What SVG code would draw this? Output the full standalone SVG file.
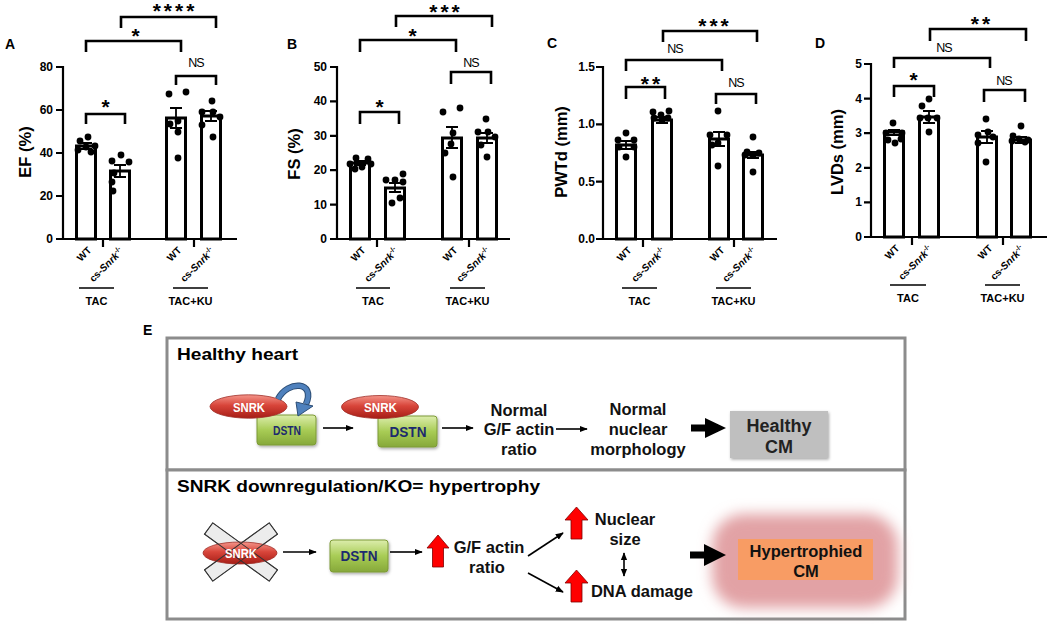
<svg xmlns="http://www.w3.org/2000/svg" width="1050" height="626" viewBox="0 0 1050 626">
<defs>
<style>
text{font-family:"Liberation Sans",Arial,Helvetica,sans-serif}
.pl{font-size:14px;font-weight:bold}
.tk{font-size:12px;font-weight:bold;text-anchor:end}
.yl{font-size:16.5px;font-weight:bold;text-anchor:middle}
.xl{font-size:10px;font-weight:bold;text-anchor:end}
.gl{font-size:11px;font-weight:bold;text-anchor:middle}
.st{font-size:21px;font-weight:bold;text-anchor:middle;letter-spacing:3px}
.ns{font-size:12.5px;text-anchor:middle;letter-spacing:-1px}
.ax{fill:none;stroke:#000;stroke-width:2.2}
.bar{fill:#fff;stroke:#000;stroke-width:3}
.er{fill:none;stroke:#000;stroke-width:1.8}
.br{fill:none;stroke:#000;stroke-width:2.6}
.gline{stroke:#000;stroke-width:1.5}
.dt circle{fill:#000}
.box{fill:#fff;stroke:#8c8c8c;stroke-width:3}
.et{font-size:16px;font-weight:bold}
.e{font-size:16.5px;font-weight:bold;text-anchor:middle;fill:#111}
.snrk{fill:url(#red);stroke:#a0302a;stroke-width:0.8}
.snt{font-size:13.5px;font-weight:bold;fill:#fff;text-anchor:middle}
.dstn{fill:url(#green);stroke:#7d9a36;stroke-width:1}
.dst{font-weight:bold;fill:#1c2a6e;text-anchor:middle}
.arr{fill:none;stroke:#000;stroke-width:1.6}
.up{fill:#ff0000;stroke:#800000;stroke-width:0.8}
</style>
<linearGradient id="red" x1="0" y1="0" x2="0" y2="1">
<stop offset="0" stop-color="#f4958a"/>
<stop offset="0.45" stop-color="#d8453a"/>
<stop offset="1" stop-color="#a61d16"/>
</linearGradient>
<linearGradient id="green" x1="0" y1="0" x2="0" y2="1">
<stop offset="0" stop-color="#dcedac"/>
<stop offset="0.5" stop-color="#a8cc55"/>
<stop offset="1" stop-color="#86a83a"/>
</linearGradient>
<filter id="glow" x="-40%" y="-50%" width="180%" height="200%"><feGaussianBlur stdDeviation="7"/></filter>
<filter id="sh" x="-20%" y="-20%" width="140%" height="140%"><feDropShadow dx="1" dy="1.5" stdDeviation="1.5" flood-opacity="0.35"/></filter>
<marker id="ah" viewBox="0 0 10 10" refX="9" refY="5" markerWidth="5" markerHeight="5" orient="auto-start-reverse"><path d="M0,1 L10,5 L0,9 z" fill="#000"/></marker>
</defs>
<rect width="1050" height="626" fill="#fff"/>

<!-- Panel A -->
<g id="panelA">
<text class="pl" x="5" y="49">A</text>
<path class="ax" d="M63,66 V239 H237 M56,67 H63 M56,110 H63 M56,153 H63 M56,196 H63 M56,239 H63 M103,239 V247 M194,239 V247"/>
<text class="tk" x="53" y="71">80</text><text class="tk" x="53" y="114">60</text><text class="tk" x="53" y="157">40</text><text class="tk" x="53" y="200">20</text><text class="tk" x="53" y="243">0</text>
<text class="yl" transform="translate(31,152) rotate(-90)">EF (%)</text>
<rect class="bar" x="76.5" y="146" width="19" height="93"/>
<rect class="bar" x="110.5" y="171" width="19" height="68"/>
<rect class="bar" x="166.5" y="118" width="19" height="121"/>
<rect class="bar" x="201.5" y="116" width="19" height="123"/>
<path class="er" d="M80,143 H92 M86,143 V149 M80,149 H92 M114,165 H126 M120,165 V177 M114,177 H126 M170,108 H182 M176,108 V128 M170,128 H182 M205,111 H217 M211,111 V121 M205,121 H217"/>
<g class="dt">
<circle cx="78" cy="150" r="3.4"/><circle cx="86" cy="147" r="3.4"/><circle cx="88" cy="137" r="3.4"/><circle cx="80" cy="141" r="3.4"/><circle cx="95" cy="146" r="3.4"/><circle cx="91" cy="152" r="3.4"/>
<circle cx="112" cy="161" r="3.4"/><circle cx="121" cy="155" r="3.4"/><circle cx="129" cy="162" r="3.4"/><circle cx="114" cy="173" r="3.4"/><circle cx="112" cy="182" r="3.4"/><circle cx="113" cy="191" r="3.4"/>
<circle cx="169" cy="94" r="3.4"/><circle cx="186" cy="92" r="3.4"/><circle cx="178" cy="121" r="3.4"/><circle cx="170" cy="124" r="3.4"/><circle cx="178" cy="132" r="3.4"/><circle cx="178" cy="158" r="3.4"/>
<circle cx="212" cy="101" r="3.4"/><circle cx="202" cy="112" r="3.4"/><circle cx="213" cy="112" r="3.4"/><circle cx="220" cy="117" r="3.4"/><circle cx="202" cy="125" r="3.4"/><circle cx="213" cy="137" r="3.4"/>
</g>
<path class="br" d="M86,124 V114 H125 V124 M176,85 V76 H216 V85 M86,52 V41 H181 V52 M121,28 V17 H216 V28"/>
<text class="st" x="107" y="114">*</text>
<text class="ns" x="196" y="67">NS</text>
<text class="st" x="137" y="43">*</text>
<text class="st" x="175" y="18">****</text>
<text class="xl" transform="translate(92,251) rotate(-45)">WT</text>
<text class="xl" transform="translate(124,252) rotate(-45)">cs-<tspan font-style="italic">Snrk</tspan><tspan font-size="7" dy="-4">-/-</tspan></text>
<text class="xl" transform="translate(182,251) rotate(-45)">WT</text>
<text class="xl" transform="translate(215,252) rotate(-45)">cs-<tspan font-style="italic">Snrk</tspan><tspan font-size="7" dy="-4">-/-</tspan></text>
<path class="gline" d="M79,288 H114 M173,288 H208"/>
<text class="gl" x="96.5" y="305">TAC</text>
<text class="gl" x="190.5" y="305">TAC+KU</text>
</g>

<!-- Panel B -->
<g id="panelB">
<text class="pl" x="287" y="49">B</text>
<path class="ax" d="M337,66 V239 H510 M330,67 H337 M330,101.4 H337 M330,135.8 H337 M330,170.2 H337 M330,204.6 H337 M330,239 H337 M377,239 V247 M469,239 V247"/>
<text class="tk" x="327" y="71">50</text><text class="tk" x="327" y="105.4">40</text><text class="tk" x="327" y="139.8">30</text><text class="tk" x="327" y="174.2">20</text><text class="tk" x="327" y="208.6">10</text><text class="tk" x="327" y="243">0</text>
<text class="yl" transform="translate(300,154) rotate(-90)">FS (%)</text>
<rect class="bar" x="350.5" y="163" width="19" height="76"/>
<rect class="bar" x="385.5" y="188" width="19" height="51"/>
<rect class="bar" x="442.5" y="138" width="19" height="101"/>
<rect class="bar" x="477.5" y="138" width="19" height="101"/>
<path class="er" d="M354,161 H366 M360,161 V165 M354,165 H366 M389,183 H401 M395,183 V192 M389,192 H401 M446,127 H458 M452,127 V148 M446,148 H458 M481,133 H493 M487,133 V143 M481,143 H493"/>
<g class="dt">
<circle cx="350" cy="164" r="3.4"/><circle cx="356" cy="158" r="3.4"/><circle cx="362" cy="167" r="3.4"/><circle cx="368" cy="159" r="3.4"/><circle cx="371" cy="164" r="3.4"/><circle cx="355" cy="169" r="3.4"/>
<circle cx="386" cy="180" r="3.4"/><circle cx="395" cy="180" r="3.4"/><circle cx="403" cy="174" r="3.4"/><circle cx="403" cy="182" r="3.4"/><circle cx="392" cy="203" r="3.4"/><circle cx="400" cy="198" r="3.4"/>
<circle cx="443" cy="112" r="3.4"/><circle cx="460" cy="108" r="3.4"/><circle cx="453" cy="133" r="3.4"/><circle cx="451" cy="144" r="3.4"/><circle cx="445" cy="153" r="3.4"/><circle cx="453" cy="177" r="3.4"/>
<circle cx="486" cy="119" r="3.4"/><circle cx="478" cy="132" r="3.4"/><circle cx="488" cy="132" r="3.4"/><circle cx="495" cy="137" r="3.4"/><circle cx="481" cy="145" r="3.4"/><circle cx="487" cy="157" r="3.4"/>
</g>
<path class="br" d="M360,124 V112 H399 V124 M451,84 V72 H491 V84 M360,52 V40 H456 V52 M396,27 V16 H492 V27"/>
<text class="st" x="381" y="114">*</text>
<text class="ns" x="471" y="67">NS</text>
<text class="st" x="414" y="43">*</text>
<text class="st" x="446" y="19">***</text>
<text class="xl" transform="translate(366,251) rotate(-45)">WT</text>
<text class="xl" transform="translate(399,252) rotate(-45)">cs-<tspan font-style="italic">Snrk</tspan><tspan font-size="7" dy="-4">-/-</tspan></text>
<text class="xl" transform="translate(458,251) rotate(-45)">WT</text>
<text class="xl" transform="translate(491,252) rotate(-45)">cs-<tspan font-style="italic">Snrk</tspan><tspan font-size="7" dy="-4">-/-</tspan></text>
<path class="gline" d="M356,288 H390 M450,288 H485"/>
<text class="gl" x="373" y="305">TAC</text>
<text class="gl" x="467.5" y="305">TAC+KU</text>
</g>

<!-- Panel C -->
<g id="panelC">
<text class="pl" x="547" y="48">C</text>
<path class="ax" d="M603,66 V239 H777 M596,67 H603 M596,124.3 H603 M596,181.7 H603 M596,239 H603 M643,239 V247 M734,239 V247"/>
<text class="tk" x="595" y="71">1.5</text><text class="tk" x="595" y="128.3">1.0</text><text class="tk" x="595" y="185.7">0.5</text><text class="tk" x="595" y="243">0.0</text>
<text class="yl" transform="translate(567,152) rotate(-90)">PWTd (mm)</text>
<rect class="bar" x="616.5" y="145" width="19" height="94"/>
<rect class="bar" x="652.5" y="120" width="19" height="119"/>
<rect class="bar" x="709.5" y="139" width="19" height="100"/>
<rect class="bar" x="743.5" y="155" width="19" height="84"/>
<path class="er" d="M620,141 H632 M626,141 V149 M620,149 H632 M656,117 H668 M662,117 V123 M656,123 H668 M713,132 H725 M719,132 V146 M713,146 H725 M747,152 H759 M753,152 V158 M747,158 H759"/>
<g class="dt">
<circle cx="626" cy="133" r="3.4"/><circle cx="618" cy="140" r="3.4"/><circle cx="634" cy="140" r="3.4"/><circle cx="619" cy="147" r="3.4"/><circle cx="634" cy="147" r="3.4"/><circle cx="626" cy="157" r="3.4"/>
<circle cx="653" cy="112" r="3.4"/><circle cx="661" cy="115" r="3.4"/><circle cx="669" cy="111" r="3.4"/><circle cx="654" cy="118" r="3.4"/><circle cx="668" cy="118" r="3.4"/><circle cx="662" cy="120" r="3.4"/>
<circle cx="718" cy="111" r="3.4"/><circle cx="710" cy="135" r="3.4"/><circle cx="727" cy="135" r="3.4"/><circle cx="718" cy="143" r="3.4"/><circle cx="712" cy="145" r="3.4"/><circle cx="718" cy="166" r="3.4"/>
<circle cx="753" cy="137" r="3.4"/><circle cx="747" cy="152" r="3.4"/><circle cx="759" cy="153" r="3.4"/><circle cx="753" cy="155" r="3.4"/><circle cx="745" cy="155" r="3.4"/><circle cx="753" cy="172" r="3.4"/>
</g>
<path class="br" d="M626,99 V87 H665 V99 M716,104 V94 H756 V104 M626,71 V60 H722 V71 M663,42 V31 H757 V42"/>
<text class="st" x="652" y="91">**</text>
<text class="ns" x="736" y="87">NS</text>
<text class="ns" x="675" y="53">NS</text>
<text class="st" x="715" y="33">***</text>
<text class="xl" transform="translate(632,251) rotate(-45)">WT</text>
<text class="xl" transform="translate(666,252) rotate(-45)">cs-<tspan font-style="italic">Snrk</tspan><tspan font-size="7" dy="-4">-/-</tspan></text>
<text class="xl" transform="translate(725,251) rotate(-45)">WT</text>
<text class="xl" transform="translate(757,252) rotate(-45)">cs-<tspan font-style="italic">Snrk</tspan><tspan font-size="7" dy="-4">-/-</tspan></text>
<path class="gline" d="M622,288 H657 M716,288 H751"/>
<text class="gl" x="639.5" y="305">TAC</text>
<text class="gl" x="733.5" y="305">TAC+KU</text>
</g>

<!-- Panel D -->
<g id="panelD">
<text class="pl" x="815" y="48">D</text>
<path class="ax" d="M871,63 V237 H1047 M864,64 H871 M864,98.6 H871 M864,133.2 H871 M864,167.8 H871 M864,202.4 H871 M864,237 H871 M912,237 V245 M1003,237 V245"/>
<text class="tk" x="862" y="68">5</text><text class="tk" x="862" y="102.6">4</text><text class="tk" x="862" y="137.2">3</text><text class="tk" x="862" y="171.8">2</text><text class="tk" x="862" y="206.4">1</text><text class="tk" x="862" y="241">0</text>
<text class="yl" transform="translate(843,152) rotate(-90)">LVDs (mm)</text>
<rect class="bar" x="884.5" y="132" width="19" height="105"/>
<rect class="bar" x="919.5" y="117" width="19" height="120"/>
<rect class="bar" x="977.5" y="137" width="19" height="100"/>
<rect class="bar" x="1011.5" y="140" width="19" height="97"/>
<path class="er" d="M888,130 H900 M894,130 V135 M888,135 H900 M923,111 H935 M929,111 V123 M923,123 H935 M981,131 H993 M987,131 V143 M981,143 H993 M1015,137 H1027 M1021,137 V143 M1015,143 H1027"/>
<g class="dt">
<circle cx="893" cy="123" r="3.4"/><circle cx="886" cy="133" r="3.4"/><circle cx="902" cy="133" r="3.4"/><circle cx="888" cy="140" r="3.4"/><circle cx="895" cy="143" r="3.4"/><circle cx="901" cy="139" r="3.4"/>
<circle cx="929" cy="99" r="3.4"/><circle cx="922" cy="106" r="3.4"/><circle cx="920" cy="118" r="3.4"/><circle cx="928" cy="118" r="3.4"/><circle cx="937" cy="118" r="3.4"/><circle cx="929" cy="132" r="3.4"/>
<circle cx="986" cy="119" r="3.4"/><circle cx="978" cy="135" r="3.4"/><circle cx="993" cy="137" r="3.4"/><circle cx="988" cy="132" r="3.4"/><circle cx="978" cy="143" r="3.4"/><circle cx="986" cy="162" r="3.4"/>
<circle cx="1021" cy="126" r="3.4"/><circle cx="1013" cy="136" r="3.4"/><circle cx="1019" cy="139" r="3.4"/><circle cx="1028" cy="140" r="3.4"/><circle cx="1012" cy="141" r="3.4"/><circle cx="1025" cy="142" r="3.4"/>
</g>
<path class="br" d="M894,97 V86 H934 V97 M984,102 V90 H1025 V102 M894,68 V58 H990 V68 M930,41 V29 H1026 V41"/>
<text class="st" x="915" y="87">*</text>
<text class="ns" x="1004" y="85">NS</text>
<text class="ns" x="944" y="52">NS</text>
<text class="st" x="982" y="31">**</text>
<text class="xl" transform="translate(900,249) rotate(-45)">WT</text>
<text class="xl" transform="translate(933,250) rotate(-45)">cs-<tspan font-style="italic">Snrk</tspan><tspan font-size="7" dy="-4">-/-</tspan></text>
<text class="xl" transform="translate(993,249) rotate(-45)">WT</text>
<text class="xl" transform="translate(1025,250) rotate(-45)">cs-<tspan font-style="italic">Snrk</tspan><tspan font-size="7" dy="-4">-/-</tspan></text>
<path class="gline" d="M890,285 H926 M985,285 H1020"/>
<text class="gl" x="908" y="302">TAC</text>
<text class="gl" x="1002.5" y="302">TAC+KU</text>
</g>

<!-- Panel E -->
<g id="panelE">
<text class="pl" x="143" y="335">E</text>
<rect id="healthy-box" class="box" x="167" y="338" width="738" height="132"/>
<rect id="ko-box" class="box" x="167" y="470" width="738" height="149"/>
<text class="et" x="177" y="360" textLength="121" lengthAdjust="spacingAndGlyphs">Healthy heart</text>
<text class="et" x="177" y="492" textLength="363" lengthAdjust="spacingAndGlyphs">SNRK downregulation/KO= hypertrophy</text>
</g>

<g id="complex1">
<rect class="dstn" x="257" y="415" width="59" height="30" rx="3" filter="url(#sh)"/>
<text class="dst" x="287" y="435" font-size="12.5" textLength="28" lengthAdjust="spacingAndGlyphs">DSTN</text>
<ellipse class="snrk" cx="248.5" cy="406.5" rx="38.5" ry="11.7"/>
<text class="snt" x="249" y="411.5" textLength="32" lengthAdjust="spacingAndGlyphs">SNRK</text>
<path d="M278,399 C288,380 316,381 306,404" fill="none" stroke="#2c4d75" stroke-width="6.5"/>
<path d="M278,399 C288,380 316,381 306,404" fill="none" stroke="#4f81bd" stroke-width="4.5"/>
<polygon points="298,416 296,402 313,406" fill="#4f81bd" stroke="#2c4d75" stroke-width="1"/>
</g>

<g id="complex2">
<rect class="dstn" x="378" y="416" width="59" height="31" rx="3" filter="url(#sh)"/>
<text class="dst" x="408" y="437" font-size="14" textLength="37" lengthAdjust="spacingAndGlyphs">DSTN</text>
<ellipse class="snrk" cx="380" cy="407" rx="38.5" ry="11.5"/>
<text class="snt" x="380.5" y="412" textLength="33" lengthAdjust="spacingAndGlyphs">SNRK</text>
</g>

<g id="normal-ratio">
<text class="e" x="519" y="416">Normal</text>
<text class="e" x="519" y="435">G/F actin</text>
<text class="e" x="519" y="455">ratio</text>
</g>
<g id="normal-nuclear">
<text class="e" x="638" y="415">Normal</text>
<text class="e" x="638" y="435">nuclear</text>
<text class="e" x="638" y="455">morphology</text>
</g>
<g id="healthy-cm">
<rect x="730" y="411" width="98" height="47" fill="#bfbfbf" filter="url(#sh)"/>
<text x="779" y="432" font-size="18" font-weight="bold" text-anchor="middle" fill="#222">Healthy</text>
<text x="779" y="453" font-size="18" font-weight="bold" text-anchor="middle" fill="#222">CM</text>
</g>

<g id="snrk-ko">
<g transform="translate(241,552)">
<rect x="-40" y="-7" width="80" height="14" transform="rotate(36)" fill="#ececec" stroke="#555" stroke-width="1"/>
<rect x="-40" y="-7" width="80" height="14" transform="rotate(-36)" fill="#ececec" stroke="#555" stroke-width="1"/>
</g>
<ellipse class="snrk" cx="240" cy="553" rx="37" ry="11"/>
<g transform="translate(241,552)" fill="none" stroke="#333" stroke-width="1">
<rect x="-40" y="-7" width="80" height="14" transform="rotate(36)"/>
<rect x="-40" y="-7" width="80" height="14" transform="rotate(-36)"/>
</g>
<text class="snt" x="241" y="558" textLength="32" lengthAdjust="spacingAndGlyphs">SNRK</text>
</g>

<g id="dstn3">
<rect class="dstn" x="330" y="540" width="58" height="32" rx="3" filter="url(#sh)"/>
<text class="dst" x="359" y="561" font-size="14" textLength="37" lengthAdjust="spacingAndGlyphs">DSTN</text>
</g>

<g id="gf-up">
<polygon class="up" points="438,535 449,548 443.5,548 443.5,567 432.5,567 432.5,548 427,548"/>
<text class="e" x="489" y="553">G/F actin</text>
<text class="e" x="487" y="573">ratio</text>
</g>
<g id="nuclear-up">
<polygon class="up" points="576.5,507 588,520 582,520 582,539 571,539 571,520 565,520"/>
<text class="e" x="625" y="525">Nuclear</text>
<text class="e" x="625" y="545">size</text>
</g>
<g id="dna-up">
<polygon class="up" points="576.5,570 588,583 582,583 582,602 571,602 571,583 565,583"/>
<text class="e" x="642" y="597">DNA damage</text>
</g>

<g id="hyper-cm">
<rect x="712" y="514" width="186" height="94" rx="32" fill="#e2a2a5" filter="url(#glow)"/>
<rect x="738" y="539" width="135" height="41" fill="#f89c64"/>
<text class="e" x="806" y="557">Hypertrophied</text>
<text class="e" x="806" y="577">CM</text>
</g>

<g id="connectors">
<path class="arr" d="M323,428 H353" marker-end="url(#ah)"/>
<path class="arr" d="M442,428 H473" marker-end="url(#ah)"/>
<path class="arr" d="M556,429 H587" marker-end="url(#ah)"/>
<polygon points="691,424.5 705,424.5 705,418 726,428 705,438 705,431.5 691,431.5" fill="#000"/>
<path class="arr" d="M283,552 H316" marker-end="url(#ah)"/>
<path class="arr" d="M390,552 H422" marker-end="url(#ah)"/>
<path class="arr" d="M528,556 L563,533" marker-end="url(#ah)"/>
<path class="arr" d="M528,573 L563,592" marker-end="url(#ah)"/>
<path class="arr" d="M624,553 V576" marker-start="url(#ah)" marker-end="url(#ah)"/>
<polygon points="690,551.5 704,551.5 704,544 726,555 704,566 704,558.5 690,558.5" fill="#000"/>
</g>
</svg>
